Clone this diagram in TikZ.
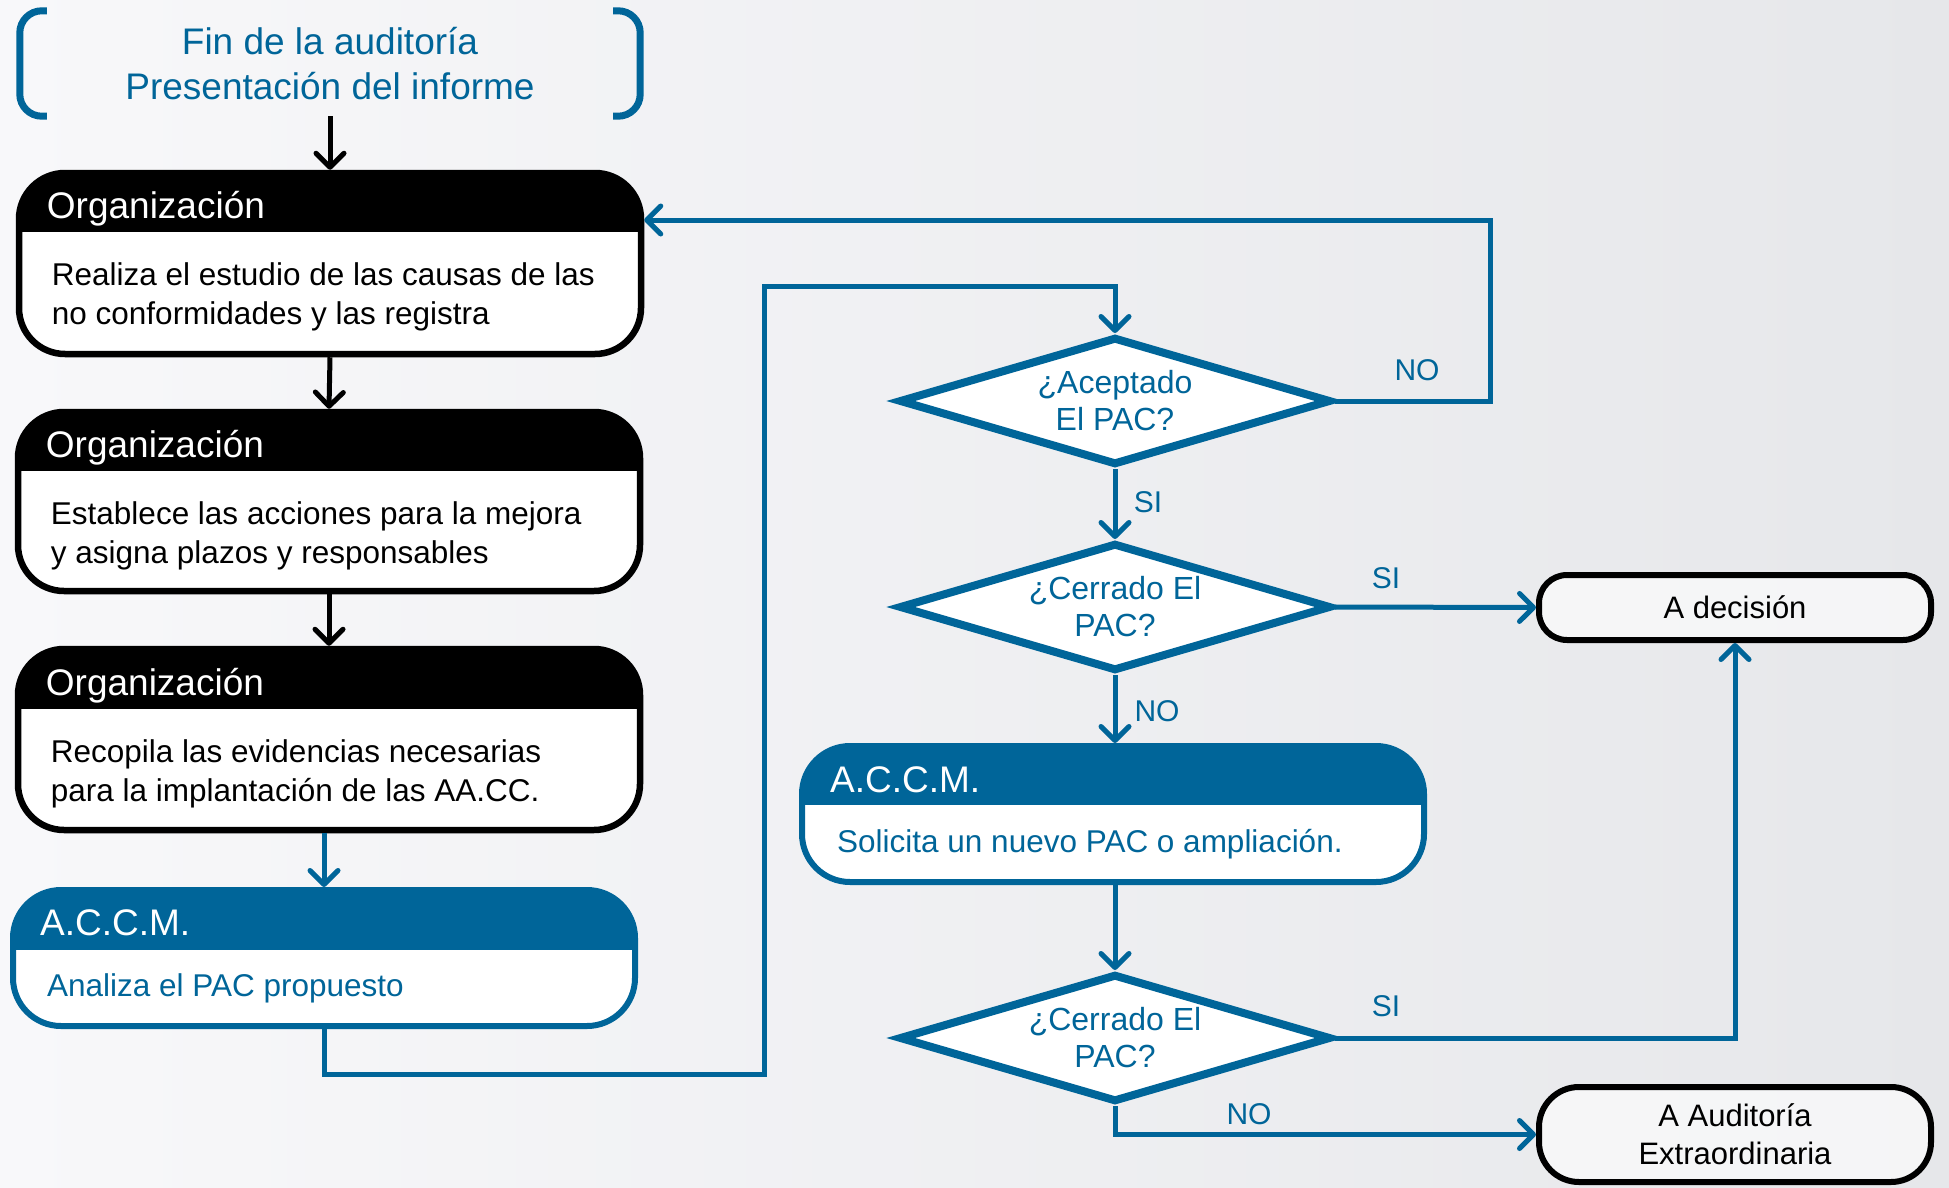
\documentclass[tikz,border=0pt]{standalone}
\usepackage{fontspec}
\setmainfont{Liberation Sans}
\usetikzlibrary{shapes.geometric,arrows.meta,calc}
\definecolor{accm}{RGB}{0,101,153}
\definecolor{bgl}{RGB}{248,248,250}
\definecolor{bgr}{RGB}{230,231,234}
\tikzset{
  orgbox/.style={draw=black, line width=6.5pt, rounded corners=46pt, fill=white,
    minimum width=622pt, inner sep=0pt,
    path picture={\fill[black, sharp corners] ([yshift=5pt]path picture bounding box.north west) rectangle ([yshift=-#1]path picture bounding box.north east);}},
  accmbox/.style={draw=accm, line width=6pt, rounded corners=48pt, fill=white,
    minimum width=622pt, minimum height=136pt, inner sep=0pt,
    path picture={\fill[accm, sharp corners] ([yshift=5pt]path picture bounding box.north west) rectangle ([yshift=-#1]path picture bounding box.north east);}},
  headtxt/.style={anchor=west, inner sep=0pt, text=white, font=\fontsize{37}{44}\selectfont},
  bodytxt/.style={anchor=west, inner sep=0pt, align=left, font=\fontsize{31.5}{39}\selectfont},
  startnode/.style={minimum width=620pt, minimum height=105pt, inner sep=0pt, text=accm,
    align=center, font=\fontsize{37}{45}\selectfont},
  brk/.style={draw=accm, line width=7pt, rounded corners=22pt},
  dia/.style={diamond, draw=accm, line width=8pt, fill=white, minimum width=432pt,
    minimum height=128pt, aspect=3.375, inner sep=0pt, text=accm, align=center,
    font=\fontsize{32}{37}\selectfont},
  endbox/.style={draw=black, line width=6pt, fill=white, fill opacity=0.6, text opacity=1,
    minimum width=392pt, inner sep=0pt, align=center, font=\fontsize{31}{38}\selectfont},
  blk/.style={draw=black, line width=5pt, -{Straight Barb[length=14pt,width=28pt,round]}},
  blu/.style={draw=accm, line width=5pt, -{Straight Barb[length=14pt,width=28pt,round]}},
  lbl/.style={inner sep=0pt, text=accm, font=\fontsize{30}{36}\selectfont}
}
\begin{document}
\begin{tikzpicture}[x=1pt,y=-1pt]
\useasboundingbox (0,0) rectangle (1949,1188);
\shade[left color=bgl, right color=bgr] (0,0) rectangle (1949,1188);

% start bracket
\node[startnode] (start) at (330,63.5) {Fin de la auditoría\\Presentación del informe};
\draw[brk] ([xshift=27pt]start.north west) -- (start.north west) -- (start.south west) -- ([xshift=27pt]start.south west);
\draw[brk] ([xshift=-27pt]start.north east) -- (start.north east) -- (start.south east) -- ([xshift=-27pt]start.south east);

% left column
\node[orgbox=59pt, minimum height=181pt] (b1) at (330,263.5) {};
\node[headtxt] (b1h) at ($(b1.north west)+(31,39)$) {Organización};
\node[bodytxt] (b1t) at ($(b1.north west)+(36,127)$) {Realiza el estudio de las causas de las\\no conformidades y las registra};

\node[orgbox=59pt, minimum height=179pt] (b2) at (329,501.5) {};
\node[headtxt] (b2h) at ($(b2.north west)+(31,39)$) {Organización};
\node[bodytxt] (b2t) at ($(b2.north west)+(36,127.5)$) {Establece las acciones para la mejora\\y asigna plazos y responsables};

\node[orgbox=60pt, minimum height=181pt] (b3) at (329,739.5) {};
\node[headtxt] (b3h) at ($(b3.north west)+(31,40)$) {Organización};
\node[bodytxt] (b3t) at ($(b3.north west)+(36,128)$) {Recopila las evidencias necesarias\\para la implantación de las AA.CC.};

\node[accmbox=60pt] (b4) at (324,958) {};
\node[headtxt] (b4h) at ($(b4.north west)+(30,36)$) {A.C.C.M.};
\node[bodytxt, text=accm] (b4t) at ($(b4.north west)+(37,101)$) {Analiza el PAC propuesto};

% right column
\node[dia] (d1) at (1115,401) {¿Aceptado\\El PAC?};
\node[dia] (d2) at (1115,607) {¿Cerrado El\\PAC?};
\node[accmbox=59pt] (b5) at (1113,814) {};
\node[headtxt] (b5h) at ($(b5.north west)+(31,37)$) {A.C.C.M.};
\node[bodytxt, text=accm] (b5t) at ($(b5.north west)+(38,101)$) {Solicita un nuevo PAC o ampliación.};
\node[dia] (d3) at (1115,1038) {¿Cerrado El\\PAC?};

\node[endbox, rounded corners=28pt, minimum height=65pt] (dec) at (1735,607.5) {A decisión};
\node[endbox, rounded corners=40pt, minimum height=95pt] (aud) at (1735,1134.5) {A Auditoría\\Extraordinaria};

% connectors
\draw[blk] (start.south) -- (b1.north);
\draw[blk] (b1.south) -- (b2.north);
\draw[blk] (b2.south) -- (b3.north);
\draw[blu] (b4.north |- b3.south) -- (b4.north);

\coordinate (c1) at (764,1074);
\coordinate (c2) at (764,286);
\draw[blu] (b4.south) |- (c1) -- (c2) -| (d1.north);

\coordinate (noturn) at (1490,220);
\draw[blu] (d1.east) -| (noturn) -- (noturn -| b1.east);
\draw[blu] (d1.south) -- (d2.north);
\draw[blu] (d2.east) -- (dec.west);
\draw[blu] (d2.south) -- (d2.south |- b5.north);
\draw[blu] (d3.north |- b5.south) -- (d3.north);
\draw[blu] (d3.east) -| (dec.south);
\draw[blu] (d3.south) |- (aud.west);

% labels
\node[lbl] (l1) at (1417,370) {NO};
\node[lbl] (l2) at (1148,502) {SI};
\node[lbl] (l3) at (1386,578) {SI};
\node[lbl] (l4) at (1157,711) {NO};
\node[lbl] (l5) at (1386,1006) {SI};
\node[lbl] (l6) at (1249,1114) {NO};
\end{tikzpicture}
\end{document}
